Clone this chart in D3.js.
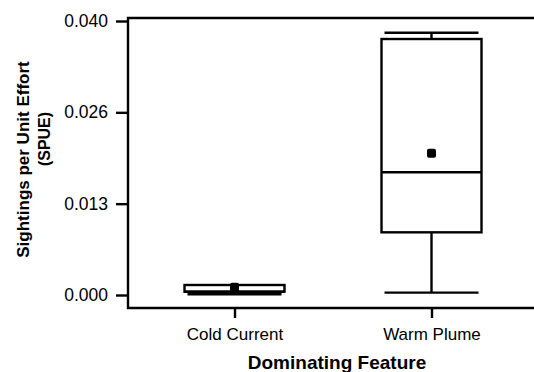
<!DOCTYPE html>
<html><head><meta charset="utf-8">
<script src="https://cdn.jsdelivr.net/npm/d3@7"></script>
<style>body{margin:0;background:#fff}svg{display:block}text{font-family:"Liberation Sans",Arial,sans-serif;fill:#000}</style>
</head><body>
<script>
const categories = ["Cold Current", "Warm Plume"];
const whiskerLow = [0.0001, 0.00034];
const q1 = [0.00048, 0.00915];
const median = [0.00048, 0.01791];
const q3 = [0.00146, 0.03737];
const whiskerHigh = [0.00146, 0.03829];
const means = [0.00112, 0.02069];
const yTickValues = [0, 0.04/3, 0.08/3, 0.04];
const yTickLabels = ["0.000", "0.013", "0.026", "0.040"];

const W = 534, H = 372;
const mLeft = 128, mTop = 18, mBottom = 308, mRight = 534;
const svg = d3.select("body").append("svg").attr("width", W).attr("height", H);

const y = d3.scaleLinear().domain([0, 0.04]).range([295, 21]);
const x = d3.scalePoint().domain(categories).range([136, 530]).padding(0.5);
const boxW = 100;

// frame
const frame = svg.append("g").attr("stroke", "#000").attr("stroke-width", 2.4).attr("fill", "none");
frame.append("path").attr("d", `M${mRight},${mTop}H${mLeft}V${mBottom}H${mRight}`);

// y axis
const ya = svg.append("g").attr("transform", `translate(${mLeft},0)`)
  .call(d3.axisLeft(y).tickValues(yTickValues).tickFormat((d, i) => yTickLabels[i]).tickSize(12).tickPadding(8).tickSizeOuter(0));
ya.select(".domain").remove();
ya.selectAll("line").attr("stroke-width", 2.4);
ya.selectAll("text").style("font-size", "17.5px").attr("fill", "#000").style("font-family", "'Liberation Sans',Arial,sans-serif");

// x axis
const xa = svg.append("g").attr("transform", `translate(0,${mBottom})`)
  .call(d3.axisBottom(x).tickSize(10).tickPadding(10).tickSizeOuter(0));
xa.select(".domain").remove();
xa.selectAll("line").attr("stroke-width", 2.4);
xa.selectAll("text").style("font-size", "17px").attr("fill", "#000").style("font-family", "'Liberation Sans',Arial,sans-serif");

// boxes
const data = categories.map((c, i) => ({c, lo: whiskerLow[i], q1: q1[i], med: median[i], q3: q3[i], hi: whiskerHigh[i], mean: means[i]}));
const g = svg.append("g").attr("stroke", "#000").attr("stroke-width", 2.4).attr("fill", "none");
data.forEach(d => {
  const cx = x(d.c);
  const bx = cx - boxW / 2;
  if (d.hi > d.q3) {
    g.append("line").attr("x1", cx).attr("x2", cx).attr("y1", y(d.q3)).attr("y2", y(d.hi));
    g.append("line").attr("x1", bx + 3).attr("x2", bx + boxW - 3).attr("y1", y(d.hi)).attr("y2", y(d.hi));
  }
  g.append("line").attr("x1", cx).attr("x2", cx).attr("y1", y(d.q1)).attr("y2", y(d.lo));
  g.append("line").attr("x1", bx + 3).attr("x2", bx + boxW - 3).attr("y1", y(d.lo)).attr("y2", y(d.lo));
  g.append("rect").attr("x", bx).attr("y", y(d.q3)).attr("width", boxW).attr("height", y(d.q1) - y(d.q3)).attr("fill", "#fff");
  g.append("line").attr("x1", bx).attr("x2", bx + boxW).attr("y1", y(d.med)).attr("y2", y(d.med));
  svg.append("rect").attr("x", cx - 4.5).attr("y", y(d.mean) - 4.5).attr("width", 9).attr("height", 9).attr("rx", 2).attr("fill", "#000");
});

// titles
svg.append("text").attr("x", 337).attr("y", 369).attr("text-anchor", "middle")
  .style("font-size", "19px").style("font-weight", "bold").text("Dominating Feature");
svg.append("text").attr("transform", "translate(29,159.5) rotate(-90)").attr("text-anchor", "middle")
  .style("font-size", "17px").style("font-weight", "bold").text("Sightings per Unit Effort");
svg.append("text").attr("transform", "translate(49.5,139) rotate(-90)").attr("text-anchor", "middle")
  .style("font-size", "16px").style("font-weight", "bold").text("(SPUE)");
</script>
</body></html>
